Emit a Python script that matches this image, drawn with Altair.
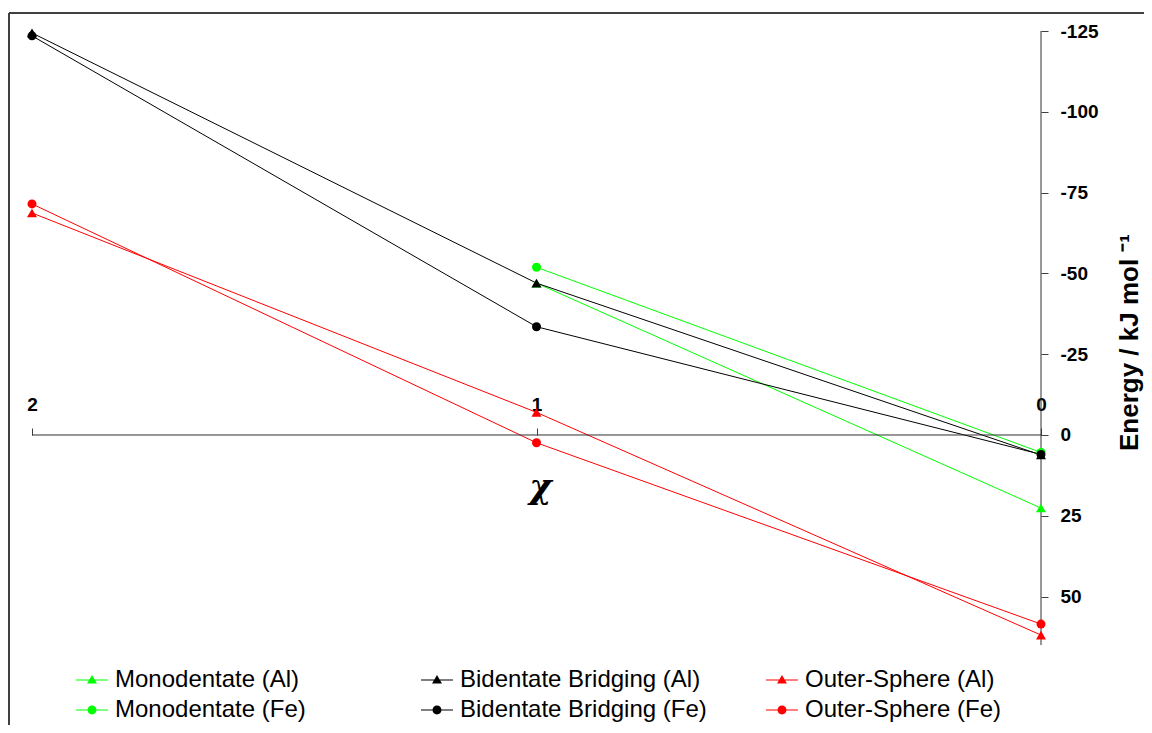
import altair as alt
import pandas as pd

# ---- data ----
series_names = ["Monodentate (Al)", "Bidentate Bridging (Al)", "Outer-Sphere (Al)",
                "Monodentate (Fe)", "Bidentate Bridging (Fe)", "Outer-Sphere (Fe)"]
series_colors = ["#00FF00", "#000000", "#FF0000", "#00FF00", "#000000", "#FF0000"]
series_shapes = ["triangle-up", "triangle-up", "triangle-up", "circle", "circle", "circle"]

mono_al_chi = [1, 0]
mono_al_E = [-47.0, 22.6]
bb_al_chi = [2, 1, 0]
bb_al_E = [-124.4, -47.0, 6.2]
os_al_chi = [2, 1, 0]
os_al_E = [-68.7, -7.0, 61.9]
mono_fe_chi = [1, 0]
mono_fe_E = [-51.9, 5.4]
bb_fe_chi = [2, 1, 0]
bb_fe_E = [-123.5, -33.5, 6.0]
os_fe_chi = [2, 1, 0]
os_fe_E = [-71.5, 2.4, 58.5]

x_ticks = [2, 1, 0]
y_ticks = [-125, -100, -75, -50, -25, 0, 25, 50]
y_axis_extent = [-125, 65]
x_axis_extent = [2, 0]

series_data = [
    (mono_al_chi, mono_al_E), (bb_al_chi, bb_al_E), (os_al_chi, os_al_E),
    (mono_fe_chi, mono_fe_E), (bb_fe_chi, bb_fe_E), (os_fe_chi, os_fe_E),
]

rows = []
for name, col, shp, (xs, ys) in zip(series_names, series_colors, series_shapes, series_data):
    for xv, yv in zip(xs, ys):
        rows.append({"series": name, "chi": xv, "energy": yv, "color": col,
                     "shape": shp, "msize": 100 if shp == "triangle-up" else 81})
df = pd.DataFrame(rows)

xaxis_df = pd.DataFrame({"x1": [x_axis_extent[0]], "x2": [x_axis_extent[1]], "y": [0]})
yaxis_df = pd.DataFrame({"x": [0], "y1": [y_axis_extent[0]], "y2": [y_axis_extent[1]]})

# ---- layout ----
W, H = 1130, 712
xscale = alt.Scale(domain=[-0.19425, 2.04559], reverse=True, nice=False, zero=False)
yscale = alt.Scale(domain=[-130.57, 89.73], reverse=True, nice=False, zero=False)

FONT = "Liberation Sans"
hyphen_label = "datum.value < 0 ? '-' + abs(datum.value) : '' + datum.value"

xaxis = alt.Axis(orient="top", offset=-422, values=x_ticks, domain=False,
                 tickSize=7, tickColor="#404040", tickWidth=1,
                 labelFont=FONT, labelFontSize=19, labelFontWeight="bold", labelColor="black",
                 labelPadding=14, labelAngle=0, grid=False, labelExpr=hyphen_label,
                 title="χ", titleFont="DejaVu Serif", titleFontSize=34,
                 titleFontStyle="italic", titleFontWeight="bold", titleColor="black",
                 titleX=531, titleY=52, titleAlign="center", titleBaseline="middle",
                 titleAngle=0)
yaxis = alt.Axis(orient="right", offset=-98, values=y_ticks, domain=False,
                 tickSize=7, tickColor="#404040", tickWidth=1,
                 labelFont=FONT, labelFontSize=19, labelFontWeight="bold", labelColor="black",
                 labelPadding=12, grid=False, labelExpr=hyphen_label,
                 title="Energy / kJ mol ⁻¹", titleFont=FONT, titleFontSize=26,
                 titleFontWeight="bold", titleColor="black",
                 titleX=88, titleY=329, titleAngle=270, titleAlign="center",
                 titleBaseline="middle")

frame_top = alt.Chart(df).mark_rule(color="#404040", strokeWidth=2).encode(
    x=alt.value(0), x2=alt.value(W + 30), y=alt.value(0))
frame_left = alt.Chart(df).mark_rule(color="#404040", strokeWidth=2).encode(
    x=alt.value(0), y=alt.value(0), y2=alt.value(H + 30))

x_line = alt.Chart(xaxis_df).mark_rule(color="#303030", strokeWidth=1).encode(
    x=alt.X("x1:Q", scale=xscale, axis=xaxis), x2="x2:Q",
    y=alt.Y("y:Q", scale=yscale, axis=yaxis))
y_line = alt.Chart(yaxis_df).mark_rule(color="#303030", strokeWidth=1).encode(
    x=alt.X("x:Q", scale=xscale, axis=xaxis),
    y=alt.Y("y1:Q", scale=yscale, axis=yaxis), y2="y2:Q")

lines = alt.Chart(df).mark_line(strokeWidth=1).encode(
    x=alt.X("chi:Q", scale=xscale, axis=xaxis),
    y=alt.Y("energy:Q", scale=yscale, axis=yaxis),
    color=alt.Color("color:N", scale=None),
    detail="series:N",
)

points = alt.Chart(df).mark_point(filled=True, opacity=1).encode(
    x=alt.X("chi:Q", scale=xscale, axis=xaxis),
    y=alt.Y("energy:Q", scale=yscale, axis=yaxis),
    color=alt.Color("color:N", scale=None),
    shape=alt.Shape("shape:N", scale=None),
    size=alt.Size("msize:Q", scale=None),
)

line_path = "M-1,-0.035H1V0.035H-1Z"
tri_path = "M0,-0.32L0.31,0.22L-0.31,0.22Z"
circ_path = "M0.28,0A0.28,0.28,0,1,1,-0.28,0A0.28,0.28,0,1,1,0.28,0Z"
legend_paths = [line_path + tri_path if s == "triangle-up" else line_path + circ_path
                for s in series_shapes]

leg = alt.Legend(orient="none", legendX=67, legendY=651, columns=3, direction="horizontal",
                 gridAlign="all", columnPadding=59, rowPadding=2, title=None, symbolSize=1024,
                 symbolStrokeWidth=0, symbolOpacity=1, labelFont=FONT, labelFontSize=24,
                 labelColor="black", labelOffset=7, labelLimit=400, padding=0)

legend_layer = alt.Chart(df).mark_point(filled=True, opacity=0).encode(
    x=alt.X("chi:Q", scale=xscale, axis=xaxis),
    y=alt.Y("energy:Q", scale=yscale, axis=yaxis),
    color=alt.Color("series:N", scale=alt.Scale(domain=series_names, range=series_colors),
                    legend=leg, sort=series_names),
    shape=alt.Shape("series:N", scale=alt.Scale(domain=series_names, range=legend_paths),
                    legend=leg, sort=series_names),
)

chart = alt.layer(lines, frame_top, frame_left, x_line, y_line, points, legend_layer).properties(
    width=W, height=H,
    padding={"left": 1, "top": 5, "right": 5, "bottom": 0},
    autosize=alt.AutoSizeParams(type="none"),
    background="white",
).configure_view(stroke=None)

chart.save("out.html", embed_options={"renderer": "svg", "actions": False})
